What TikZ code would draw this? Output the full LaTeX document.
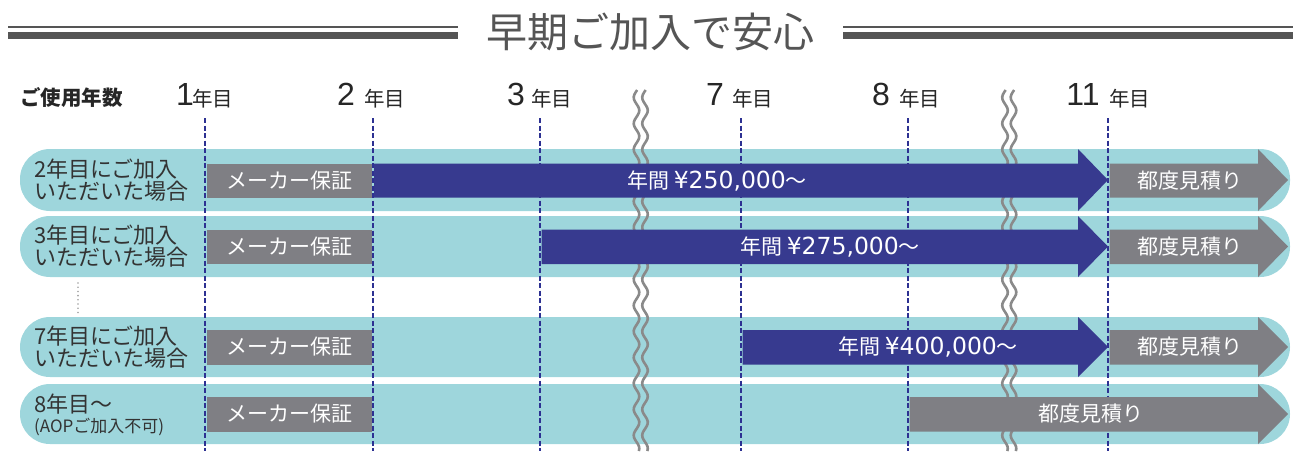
\documentclass[tikz,border=0pt]{standalone}
\usepackage{fontspec}
\newfontfamily\jp{Noto Sans CJK JP}
\newfontfamily\dv{DejaVu Sans}
\newfontfamily\ls{Liberation Sans}
\definecolor{bandc}{HTML}{9ED6DC}
\definecolor{grayc}{HTML}{7F7F84}
\definecolor{navyc}{HTML}{373A8F}
\definecolor{dashc}{HTML}{2D3192}
\definecolor{titlec}{HTML}{555555}
\definecolor{wavec}{HTML}{8A8A8A}
\definecolor{txtc}{HTML}{333333}
\definecolor{dotc}{HTML}{A0A0A0}
\newcommand\lnum[1]{{\dv\fontsize{23.5}{23.5}\selectfont #1}}
\tikzset{
  band/.style={fill=bandc, rounded corners=30pt},
  navybar/.style={fill=navyc},
  graybar/.style={fill=grayc},
  yearline/.style={draw=dashc, line width=2pt, dash pattern=on 5pt off 2.5pt},
  waveline/.style={draw=wavec, line width=2.6pt},
  rowlbl/.style={anchor=west, inner sep=0pt, align=left, text=txtc, font=\jp\fontsize{22}{22}\selectfont},
  barlbl/.style={inner sep=0pt, text=white, font=\jp\fontsize{21}{21}\selectfont},
  hdnum/.style={anchor=base, inner sep=0pt, text=black!85, font=\ls\fontsize{32}{32}\selectfont},
  hdyr/.style={anchor=base west, inner sep=0pt, text=black!85, font=\jp\fontsize{20.5}{20.5}\selectfont},
}
\begin{document}
\begin{tikzpicture}[x=1pt,y=-1pt]
\useasboundingbox (0,0) rectangle (1296,451);
% title
\node[inner sep=0pt, text=titlec, font=\jp\fontsize{41}{41}\selectfont] (title) at (650,32) {早期ご加入で安心};
\fill[titlec] (8,26) rectangle (458,28);
\fill[titlec] (8,32) rectangle (458,39);
\fill[titlec] (843,26) rectangle (1293,28);
\fill[titlec] (843,32) rectangle (1293,39);
% header
\node[anchor=west, inner sep=0pt, text=black!85, font=\jp\bfseries\fontsize{20.5}{20.5}\selectfont] (usage) at (20,98) {ご使用年数};
\node[hdnum] (n1) at (185,105) {1};
\node[hdyr] (y1) at (192,106) {年目};
\node[hdnum] (n2) at (346,105) {2};
\node[hdyr] (y2) at (364,106) {年目};
\node[hdnum] (n3) at (516,105) {3};
\node[hdyr] (y3) at (531,106) {年目};
\node[hdnum] (n7) at (715,105) {7};
\node[hdyr] (y7) at (732,106) {年目};
\node[hdnum] (n8) at (881,105) {8};
\node[hdyr] (y8) at (899,106) {年目};
\node[hdnum] (n11) at (1083,105) {11};
\node[hdyr] (y11) at (1109,106) {年目};
% bands
\fill[band] (20,149) rectangle (1290,211);
\fill[band] (20,216) rectangle (1290,277);
\fill[band] (20,317) rectangle (1290,377);
\fill[band] (20,384) rectangle (1290,444);
% year lines
\foreach \xx/\nn in {205/a,373/b,540/c,741/d,908/e,1108/f}{
  \coordinate (top\nn) at (\xx,118);
  \coordinate (bot\nn) at (\xx,451);
  \draw[yearline] (top\nn) -- (bot\nn);
}
% waves
\foreach \wx in {636.5,645,1005,1013.5}{
  \draw[waveline] plot[domain=90:451, samples=160, smooth] ({\wx+2.8*sin(13.85*\x)},\x);
}
% ellipsis
\coordinate (d1) at (78,283);
\coordinate (d2) at (78,313);
\draw[dotc, line width=1.8pt, line cap=round, dash pattern=on 0pt off 4.2pt] (d1) -- (d2);
% row 1
\fill[graybar] (206.5,163.5) rectangle (372,197.5);
\fill[navybar] (374,163.5) -- (1078,163.5) -- (1078,149) -- (1108,180) -- (1078,211) -- (1078,197.5) -- (374,197.5) -- cycle;
\fill[graybar] (1109.5,163.5) -- (1258,163.5) -- (1258,149) -- (1288,180) -- (1258,211) -- (1258,197.5) -- (1109.5,197.5) -- cycle;
% row 2
\fill[graybar] (206.5,229.5) rectangle (372,264);
\fill[navybar] (541.5,229.5) -- (1078,229.5) -- (1078,216) -- (1108,246.5) -- (1078,277) -- (1078,264) -- (541.5,264) -- cycle;
\fill[graybar] (1109.5,229.5) -- (1258,229.5) -- (1258,216) -- (1288,246.5) -- (1258,277) -- (1258,264) -- (1109.5,264) -- cycle;
% row 3
\fill[graybar] (206.5,330) rectangle (372,364.5);
\fill[navybar] (742.5,330) -- (1078,330) -- (1078,317) -- (1108,347) -- (1078,377) -- (1078,364.5) -- (742.5,364.5) -- cycle;
\fill[graybar] (1109.5,330) -- (1258,330) -- (1258,317) -- (1288,347) -- (1258,377) -- (1258,364.5) -- (1109.5,364.5) -- cycle;
% row 4
\fill[graybar] (206.5,397) rectangle (372,431.5);
\fill[graybar] (909.5,397) -- (1258,397) -- (1258,384) -- (1288,414) -- (1258,444) -- (1258,431.5) -- (909.5,431.5) -- cycle;
% row labels
\node[rowlbl] (l1) at (34,180) {2年目にご加入\\いただいた場合};
\node[rowlbl] (l2) at (34,246.5) {3年目にご加入\\いただいた場合};
\node[rowlbl] (l3) at (34,347) {7年目にご加入\\いただいた場合};
\node[rowlbl] (l4a) at (34,404) {8年目〜};
\node[rowlbl, font=\jp\fontsize{17}{17}\selectfont] (l4b) at (34,427) {(AOPご加入不可)};
% bar labels
\node[barlbl] (m1) at (289,180.5) {メーカー保証};
\node[barlbl] (m2) at (289,246.5) {メーカー保証};
\node[barlbl] (m3) at (289,347) {メーカー保証};
\node[barlbl] (m4) at (289,414) {メーカー保証};
\node[barlbl] (p1) at (717,180.5) {年間 \lnum{¥250,000}〜};
\node[barlbl] (p2) at (830,246.5) {年間 \lnum{¥275,000}〜};
\node[barlbl] (p3) at (928,347) {年間 \lnum{¥400,000}〜};
\node[barlbl] (e1) at (1190,180.5) {都度見積り};
\node[barlbl] (e2) at (1190,246.5) {都度見積り};
\node[barlbl] (e3) at (1190,347) {都度見積り};
\node[barlbl] (e4) at (1091,414) {都度見積り};
\end{tikzpicture}
\end{document}
